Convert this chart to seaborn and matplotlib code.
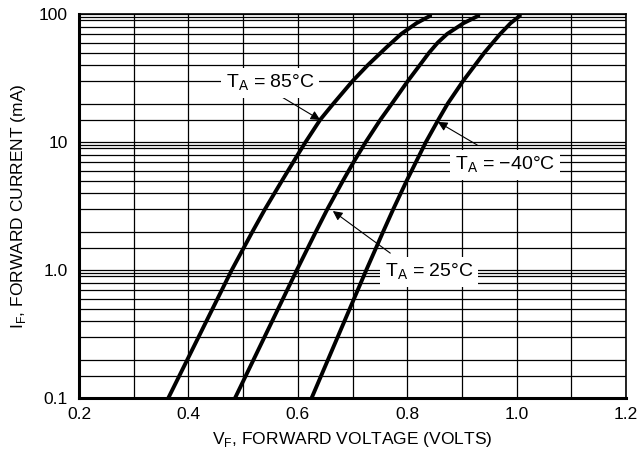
import matplotlib
matplotlib.use('Agg')
import numpy as np
import pandas as pd
import seaborn as sns
import matplotlib.pyplot as plt
from matplotlib.ticker import FixedLocator, FixedFormatter, NullFormatter

# forward voltage (V) vs forward current (mA)
vf_85 = [0.363, 0.479, 0.517, 0.540, 0.571, 0.600, 0.614, 0.641, 0.665, 0.700, 0.728, 0.762, 0.789, 0.817, 0.842]
if_85 = [0.1, 1.0, 2.0, 3.0, 5.0, 8.0, 10.0, 15.0, 20.0, 30.0, 40.0, 55.0, 70.0, 85.0, 97.0]

vf_25 = [0.485, 0.598, 0.633, 0.654, 0.6825, 0.702, 0.724, 0.751, 0.772, 0.801, 0.823, 0.840, 0.856, 0.873, 0.903, 0.930]
if_25 = [0.1, 1.0, 2.0, 3.0, 5.0, 7.0, 10.0, 15.0, 20.0, 30.0, 40.0, 50.0, 60.0, 70.0, 85.0, 97.0]

vf_m40 = [0.625, 0.725, 0.756, 0.7745, 0.799, 0.834, 0.857, 0.874, 0.902, 0.924, 0.941, 0.970, 0.989, 1.006]
if_m40 = [0.1, 1.0, 2.0, 3.0, 5.0, 10.0, 15.0, 20.0, 30.0, 40.0, 50.0, 70.0, 85.0, 97.0]

curve_names = ['85', '25', '-40']

x_ticks = [0.2, 0.4, 0.6, 0.8, 1.0, 1.2]
x_ticklabels = ['0.2', '0.4', '0.6', '0.8', '1.0', '1.2']
y_ticks = [0.1, 1, 10, 100]
y_ticklabels = ['0.1', '1.0', '10', '100']
y_minor_mult = [1.5, 2, 3, 4, 5, 6, 7, 8, 9, 9.5]

# label text, text position, arrow head position, arrow tail position
labels = [
    ('T$_\\mathregular{A}$ = 85°C', (0.549, 29.0), (0.641, 14.9), (0.571, 22.5)),
    ('T$_\\mathregular{A}$ = \u221240°C', (0.979, 6.6), (0.856, 14.4), (0.928, 9.5)),
    ('T$_\\mathregular{A}$ = 25°C', (0.840, 0.97), (0.664, 2.9), (0.769, 1.36)),
]


def build_frame():
    frames = []
    for name, v, i in zip(curve_names, [vf_85, vf_25, vf_m40], [if_85, if_25, if_m40]):
        frames.append(pd.DataFrame({'VF': v, 'IF': i, 'TA': name}))
    return pd.concat(frames, ignore_index=True)


def plot_chart():
    sns.set_style('white')
    plt.rcParams['font.family'] = ['Liberation Sans Narrow', 'Liberation Sans', 'DejaVu Sans']
    plt.rcParams['mathtext.fontset'] = 'custom'
    plt.rcParams['mathtext.rm'] = 'Liberation Sans'

    fig = plt.figure(figsize=(6.44, 4.61), dpi=100)
    ax = fig.add_axes([0.1227, 0.136, 0.8494, 0.8334])

    df = build_frame()
    sns.lineplot(data=df, x='VF', y='IF', units='TA', estimator=None, sort=False,
                 color='black', lw=2.8, ax=ax, zorder=3)

    ax.set_yscale('log')
    ax.set_xlim(0.2, 1.2)
    ax.set_ylim(0.1, 100)

    ax.xaxis.set_major_locator(FixedLocator(x_ticks))
    ax.xaxis.set_major_formatter(FixedFormatter(x_ticklabels))
    ax.xaxis.set_minor_locator(FixedLocator([0.3, 0.5, 0.7, 0.9, 1.1]))
    ax.yaxis.set_major_locator(FixedLocator(y_ticks))
    ax.yaxis.set_major_formatter(FixedFormatter(y_ticklabels))
    minors = [d * m for d in [0.1, 1, 10] for m in y_minor_mult]
    ax.yaxis.set_minor_locator(FixedLocator(minors))
    ax.yaxis.set_minor_formatter(NullFormatter())

    ax.grid(which='both', color='black', lw=0.9)
    ax.set_axisbelow(True)
    ax.tick_params(which='both', length=0, labelsize=12.5, colors='black')
    ax.tick_params(axis='y', pad=8)
    ax.tick_params(axis='x', pad=6)

    for side in ['left', 'bottom']:
        ax.spines[side].set_linewidth(2.2)
    for side in ['top', 'right']:
        ax.spines[side].set_linewidth(1.2)
    for sp in ax.spines.values():
        sp.set_color('black')

    ax.set_xlabel('V$_\\mathregular{F}$, FORWARD VOLTAGE (VOLTS)', fontsize=12.5, labelpad=6, color='black')
    ax.set_ylabel('I$_\\mathregular{F}$, FORWARD CURRENT (mA)', fontsize=12.5, labelpad=8, color='black')

    for text, pos, head, tail in labels:
        ax.annotate('', xy=head, xytext=tail,
                    arrowprops=dict(arrowstyle='-|>', color='black', lw=0.8,
                                    mutation_scale=14, shrinkA=0, shrinkB=0), zorder=4)
        ax.text(pos[0], pos[1], text, fontsize=14, ha='center', va='center', zorder=5,
                color='black', bbox=dict(boxstyle='square,pad=0.25', fc='white', ec='none'))

    fig.savefig('out.png', dpi=100)
    plt.close(fig)


if __name__ == '__main__':
    plot_chart()
